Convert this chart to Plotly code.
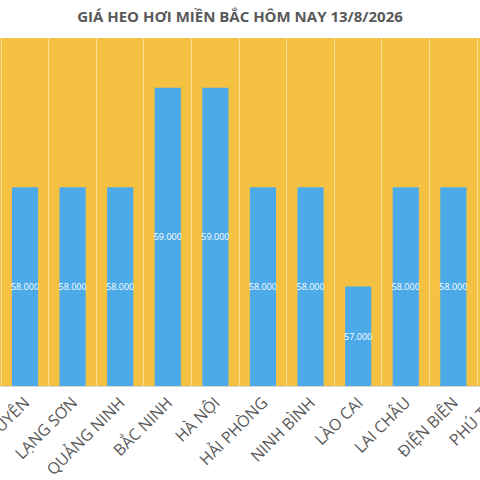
from plotly import graph_objects as go

# ---------------------- dữ liệu -------------------------------------------
provinces = ['THÁI NGUYÊN', 'LẠNG SƠN', 'QUẢNG NINH', 'BẮC NINH', 'HÀ NỘI',
             'HẢI PHÒNG', 'NINH BÌNH', 'LÀO CAI', 'LAI CHÂU', 'ĐIỆN BIÊN', 'PHÚ THỌ']
prices = [58000, 58000, 58000, 59000, 59000, 58000, 58000, 57000, 58000, 58000, None]
title_text = 'GIÁ HEO HƠI MIỀN BẮC HÔM NAY 13/8/2026'
y_min, y_max = 56000, 59500
x_range = [-0.525, 9.56]

# nhãn kiểu Việt Nam: 58.000
labels = ['' if p is None else f'{p:,}'.replace(',', '.') for p in prices]
# cột bắt đầu từ đáy trục (như Excel), để nhãn nằm giữa phần cột nhìn thấy
heights = [None if p is None else p - y_min for p in prices]

# ---------------------- vẽ biểu đồ ----------------------------------------
fig = go.Figure(go.Bar(
    x=provinces, y=heights, base=y_min, text=labels,
    customdata=prices, hovertemplate='%{x}: %{customdata:,}<extra></extra>',
    marker=dict(color='#4DAAE8', line=dict(width=0)),
    textposition='inside', insidetextanchor='middle', constraintext='none',
    textfont=dict(color='white', size=9, family='Open Sans'),
    textangle=0,
))

fig.update_layout(
    width=480, height=480,
    margin=dict(l=0, r=0, t=38, b=94, autoexpand=False),
    paper_bgcolor='white',
    plot_bgcolor='#F4C142',
    bargap=0.45,
    showlegend=False,
    font=dict(family='Open Sans', color='#595959'),
    title=dict(text=f'<b>{title_text}</b>', x=0.5, xanchor='center',
               y=1 - 17 / 480, yanchor='middle', yref='container',
               font=dict(size=15, color='#595959')),
)
fig.update_xaxes(
    range=x_range, tickson='boundaries', showgrid=True, automargin=False,
    gridcolor='rgba(255,255,255,0.45)', gridwidth=1,
    ticks='', tickangle=-45, tickfont=dict(size=16, color='#595959'),
    showline=True, linecolor='#D9D9D9', linewidth=1,
)
fig.update_yaxes(range=[y_min, y_max], showgrid=False, visible=False, automargin=False)

# tỉnh cuối nằm ngoài khung trục, chỉ thấy một phần nhãn -> chú thích theo toạ độ giấy
last_idx = len(provinces) - 1
last_pos = (last_idx - x_range[0]) / (x_range[1] - x_range[0])
fig.add_annotation(x=last_pos, y=0, xref='paper', yref='paper', text=provinces[-1],
                   showarrow=False, textangle=-45, xanchor='right', yanchor='top',
                   xshift=11, yshift=3, font=dict(size=16, color='#595959'))

fig.write_html('out.html', config={'displayModeBar': False},
               post_script="document.body.style.margin='0';")
